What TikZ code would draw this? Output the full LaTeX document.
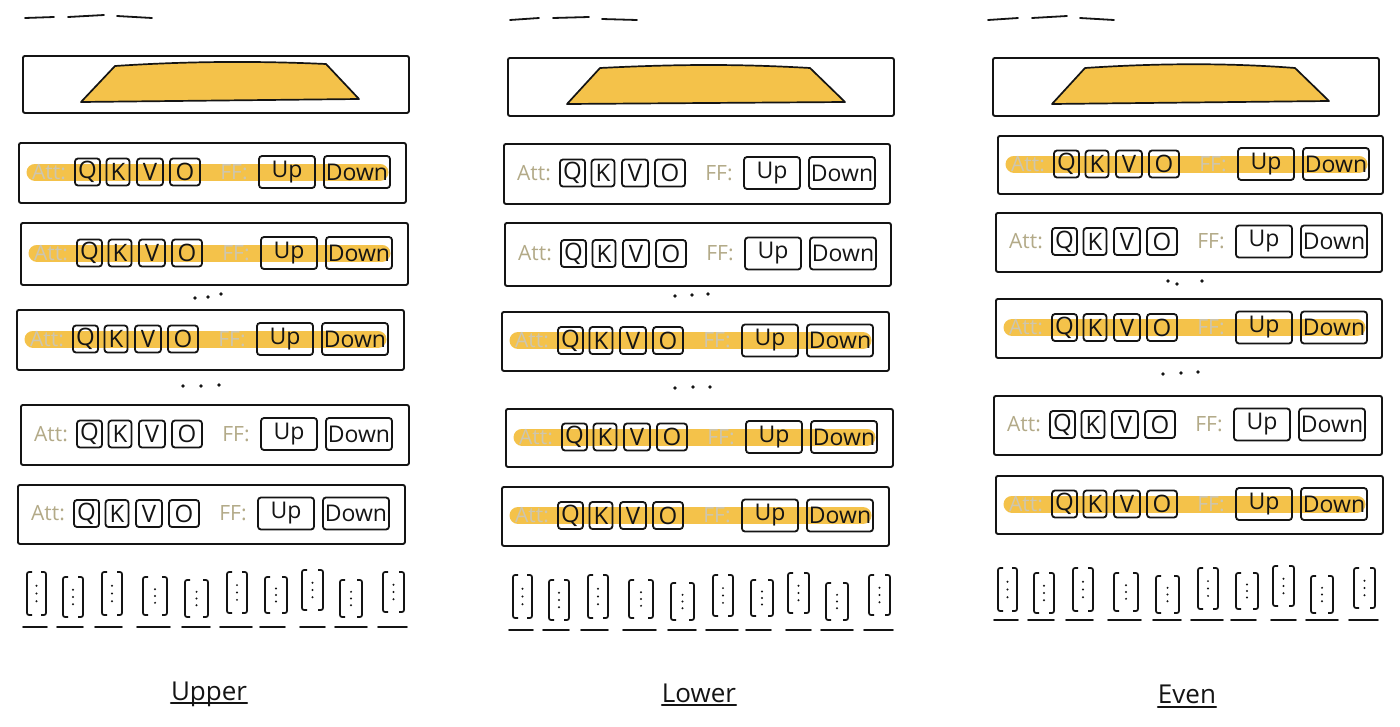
\documentclass[tikz,border=0pt]{standalone}
\usepackage{fontspec}
\setmainfont{Open Sans}
\usetikzlibrary{calc}
\definecolor{hlc}{HTML}{F4C24A}
\definecolor{attc}{HTML}{B3AA88}
\definecolor{attl}{HTML}{CDC6B0}
\definecolor{ink}{HTML}{141414}

\tikzset{
  outerbox/.style={draw=ink, line width=1.9pt, rounded corners=2pt, inner sep=0pt, anchor=north west},
  kbox/.style={draw=ink, line width=1.8pt, rounded corners=3pt, inner sep=0pt, minimum height=27pt, text=ink, font=\fontsize{24}{24}\selectfont},
  ffbox/.style={draw=ink, line width=1.8pt, rounded corners=3pt, inner sep=0pt, minimum height=32pt, text=ink, font=\fontsize{23}{23}\selectfont},
  lbltext/.style={inner sep=0pt, font=\fontsize{21}{21}\selectfont},
  hlstrip/.style={draw=hlc, line width=17pt, line cap=round},
  trap/.style={fill=hlc, draw=ink, line width=1.7pt, line join=round},
  dashline/.style={draw=ink, line width=1.8pt, line cap=round},
  tokline/.style={draw=ink, line width=1.7pt, rounded corners=2pt},
  dotfill/.style={fill=ink},
  paneltitle/.style={inner sep=0pt, anchor=base, text=ink, font=\fontsize{26}{26}\selectfont},
}

% #1 name, #2 x0, #3 ytop, #4 ybot, #5 width, #6 highlight (1/0)
\newcommand{\layerrow}[6]{%
  \pgfmathsetmacro{\cy}{(#3+#4)/2}%
  \pgfmathsetmacro{\hh}{#4-#3}%
  \ifnum#6=1
    \draw[hlstrip] (#2+17,\cy) -- (#2+362,\cy);
    \def\attcol{attl}%
  \else
    \def\attcol{attc}%
  \fi
  \node[outerbox, minimum width=#5pt, minimum height=\hh pt] (#1) at (#2,#3) {};
  \node[lbltext, text=\attcol] (#1att) at (#2+31,\cy) {Att:};
  \node[kbox, minimum width=25pt] (#1q) at (#2+69.5,\cy) {Q};
  \node[kbox, minimum width=23pt] (#1k) at (#2+100,\cy) {K};
  \node[kbox, minimum width=26pt] (#1v) at (#2+132,\cy) {V};
  \node[kbox, minimum width=30pt] (#1o) at (#2+167,\cy) {O};
  \node[lbltext, text=\attcol] (#1ff) at (#2+216,\cy) {FF:};
  \node[ffbox, minimum width=56pt] (#1up) at (#2+269,\cy) {Up};
  \node[ffbox, minimum width=66pt] (#1down) at (#2+339,\cy) {Down};
}

% #1 dx, #2 dy for brackets, #3 underline y
\newcommand{\tokenrow}[3]{%
  \foreach \a/\b/\t/\u in {27/46/572/615, 63/83/577/617, 102/122/572/615, 143/167/577/615, 185/208/580/617, 227/247/572/613, 265/287/577/613, 302/323/570/610, 340/362/580/617, 383/404/572/612}{
    \draw[tokline] (\a+#1+5,\t+#2) -- (\a+#1,\t+#2) -- (\a+#1,\u+#2) -- (\a+#1+5,\u+#2);
    \draw[tokline] (\b+#1-5,\t+#2) -- (\b+#1,\t+#2) -- (\b+#1,\u+#2) -- (\b+#1-5,\u+#2);
    \fill[dotfill] ({(\a+\b)/2+#1},{\t+#2+(\u-\t)*0.32}) circle (1.1);
    \fill[dotfill] ({(\a+\b)/2+#1},{\t+#2+(\u-\t)*0.5}) circle (1.1);
    \fill[dotfill] ({(\a+\b)/2+#1},{\t+#2+(\u-\t)*0.68}) circle (1.1);
  }
  \foreach \a/\b in {23/47, 57/83, 95/122, 137/170, 182/210, 220/252, 260/285, 300/325, 335/367, 378/407}{
    \draw[dashline] (\a+#1,#3) -- (\b+#1,#3);
  }
}

\begin{document}
\begin{tikzpicture}[x=1pt, y=-1pt]
\fill[white] (0,0) rectangle (1400,726);
\useasboundingbox (0,0) rectangle (1400,726);

% ---------- Panel 1: Upper ----------
\draw[dashline] (25,18) -- (54,17);
\draw[dashline] (68,17) -- (104,15);
\draw[dashline] (117,16) -- (152,18);
\node[outerbox, minimum width=386pt, minimum height=57pt] (p1top) at (22,55) {};
\draw[trap] (115,66) .. controls (190,61) and (260,61) .. (326,64) -- (359,99) -- (81,102) -- cycle;
\layerrow{p1a}{18}{142}{202}{387}{1}
\layerrow{p1b}{20}{222}{284}{387}{1}
\layerrow{p1c}{16}{309}{369}{387}{1}
\layerrow{p1d}{20}{404}{464}{388}{0}
\layerrow{p1e}{17}{484}{543}{387}{0}
\foreach \px/\py in {195/298, 208/297, 221/294, 183/386, 201/386, 219/385}{\fill[dotfill] (\px,\py) circle (1.8);}
\tokenrow{0}{0}{627}
\node[paneltitle] (lab1) at (209,700) {Upper};
\draw[dashline] ([yshift=-3pt]lab1.base west) -- ([yshift=-3pt]lab1.base east);

% ---------- Panel 2: Lower ----------
\draw[dashline] (510,20) -- (539,18);
\draw[dashline] (553,18) -- (589,17);
\draw[dashline] (602,19) -- (637,20);
\node[outerbox, minimum width=386pt, minimum height=58pt] (p2top) at (507,57) {};
\draw[trap] (600,68) .. controls (680,64) and (740,64) .. (810,68) -- (845,102) -- (567,104) -- cycle;
\layerrow{p2a}{503}{143}{203}{386}{0}
\layerrow{p2b}{504}{222}{285}{386}{0}
\layerrow{p2c}{501}{311}{370}{387}{1}
\layerrow{p2d}{505}{408}{466}{387}{1}
\layerrow{p2e}{501}{486}{545}{387}{1}
\foreach \px/\py in {675/296, 692/295, 708/294, 675/388, 693/387, 710/387}{\fill[dotfill] (\px,\py) circle (1.8);}
\tokenrow{486}{3}{630}
\node[paneltitle] (lab2) at (699,702) {Lower};
\draw[dashline] ([yshift=-3pt]lab2.base west) -- ([yshift=-3pt]lab2.base east);

% ---------- Panel 3: Even ----------
\draw[dashline] (988,20) -- (1018,18);
\draw[dashline] (1032,18) -- (1067,16);
\draw[dashline] (1080,18) -- (1114,20);
\node[outerbox, minimum width=386pt, minimum height=58pt] (p3top) at (992,57) {};
\draw[trap] (1085,68) .. controls (1160,63) and (1230,63) .. (1295,68) -- (1329,101) -- (1052,104) -- cycle;
\layerrow{p3a}{997}{135}{193}{385}{1}
\layerrow{p3b}{995}{212}{271}{386}{0}
\layerrow{p3c}{995}{298}{357}{386}{1}
\layerrow{p3d}{993}{395}{454}{388}{0}
\layerrow{p3e}{995}{475}{533}{387}{1}
\foreach \px/\py in {1168/281, 1177/284, 1202/281, 1163/374, 1181/373, 1198/372}{\fill[dotfill] (\px,\py) circle (1.8);}
\tokenrow{971}{-4}{620}
\node[paneltitle] (lab3) at (1187,703) {Even};
\draw[dashline] ([yshift=-4pt]lab3.base west) -- ([yshift=-4pt]lab3.base east);
\end{tikzpicture}
\end{document}
